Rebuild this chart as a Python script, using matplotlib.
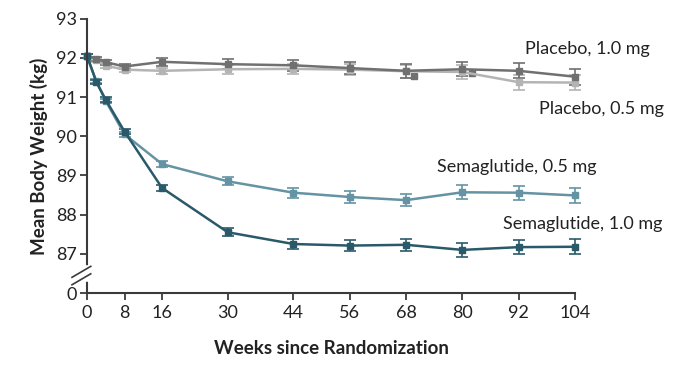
import numpy as np
import matplotlib.pyplot as plt

plt.rcParams['font.family'] = ['Lato', 'DejaVu Sans']

weeks = [0, 2, 4, 8, 16, 30, 44, 56, 68, 80, 92, 104]

# mean body weight (kg)
placebo_10 = [92.05, 91.98, 91.89, 91.78, 91.90, 91.84, 91.81, 91.74, 91.67, 91.71, 91.67, 91.52]
placebo_05 = [92.05, 91.95, 91.80, 91.70, 91.67, 91.71, 91.72, 91.70, 91.66, 91.64, 91.38, 91.37]
sema_05 = [92.05, 91.40, 90.90, 90.05, 89.29, 88.85, 88.56, 88.45, 88.37, 88.57, 88.56, 88.49]
sema_10 = [92.05, 91.38, 90.93, 90.12, 88.68, 87.55, 87.25, 87.21, 87.23, 87.10, 87.17, 87.18]

# standard errors (kg)
placebo_10_se = [0.05, 0.05, 0.06, 0.07, 0.10, 0.13, 0.14, 0.16, 0.18, 0.18, 0.19, 0.20]
placebo_05_se = [0.05, 0.05, 0.06, 0.07, 0.08, 0.12, 0.13, 0.14, 0.17, 0.18, 0.19, 0.19]
sema_05_se = [0.05, 0.05, 0.06, 0.07, 0.08, 0.10, 0.13, 0.15, 0.16, 0.18, 0.18, 0.19]
sema_10_se = [0.05, 0.05, 0.06, 0.07, 0.08, 0.10, 0.13, 0.14, 0.15, 0.18, 0.18, 0.19]

# stray placebo markers
stray_weeks = [69.7, 82.0]
stray_vals = [91.53, 91.62]

yticks = [86, 87, 88, 89, 90, 91, 92, 93]
ytick_labels = ['0', '87', '88', '89', '90', '91', '92', '93']
xticks = [0, 8, 16, 30, 44, 56, 68, 80, 92, 104]

c_p10 = '#707070'
c_p05 = '#b4b4b4'
c_s05 = '#6593a3'
c_s10 = '#2a5a69'
axc = '#3a3a3a'

fig = plt.figure(figsize=(6.99, 3.67), dpi=100)
ax = fig.add_axes([87 / 699, 1 - 293 / 367, (575 - 87) / 699, (293 - 18.7) / 367])

series = [
    (placebo_05, placebo_05_se, c_p05),
    (placebo_10, placebo_10_se, c_p10),
    (sema_05, sema_05_se, c_s05),
    (sema_10, sema_10_se, c_s10),
]
for vals, se, c in series:
    ax.errorbar(weeks, vals, yerr=se, color=c, lw=1.8, marker='s', ms=4.5,
                elinewidth=1.2, capsize=4.5, capthick=1.2, clip_on=False)

ax.plot(stray_weeks, stray_vals, 's', color=c_p10, ms=4.5, ls='none')

ax.set_xlim(0, 104)
ax.set_ylim(86, 93)
ax.set_xticks(xticks)
ax.set_yticks(yticks)
ax.set_yticklabels(ytick_labels)

for s in ['top', 'right']:
    ax.spines[s].set_visible(False)
for s in ['left', 'bottom']:
    ax.spines[s].set_color(axc)
    ax.spines[s].set_linewidth(1.5)
ax.tick_params(axis='both', colors=axc, labelcolor='#222222', labelsize=13,
               length=5, width=1.3)
ax.tick_params(axis='x', pad=4)
ax.tick_params(axis='y', pad=2)

# axis break on y
ax.plot([0, 0], [86.35, 86.65], color='white', lw=4, clip_on=False, zorder=5)
for yb in [86.33, 86.52]:
    ax.plot([-3.2, 0.8], [yb - 0.12, yb + 0.16], color=axc, lw=1.2,
            clip_on=False, zorder=6)

ax.set_xlabel('Weeks since Randomization', fontsize=13.5, fontweight='bold',
              color='#222222', labelpad=13)
ax.set_ylabel('Mean Body Weight (kg)', fontsize=13.5, fontweight='bold',
              color='#222222', labelpad=6)

lab = dict(fontsize=13, color='#222222', ha='left', va='center', clip_on=False)
ax.text(93.4, 92.23, 'Placebo, 1.0 mg', **lab)
ax.text(96.4, 90.70, 'Placebo, 0.5 mg', **lab)
ax.text(74.6, 89.22, 'Semaglutide, 0.5 mg', **lab)
ax.text(88.7, 87.76, 'Semaglutide, 1.0 mg', **lab)

fig.savefig('out.png', dpi=100)
